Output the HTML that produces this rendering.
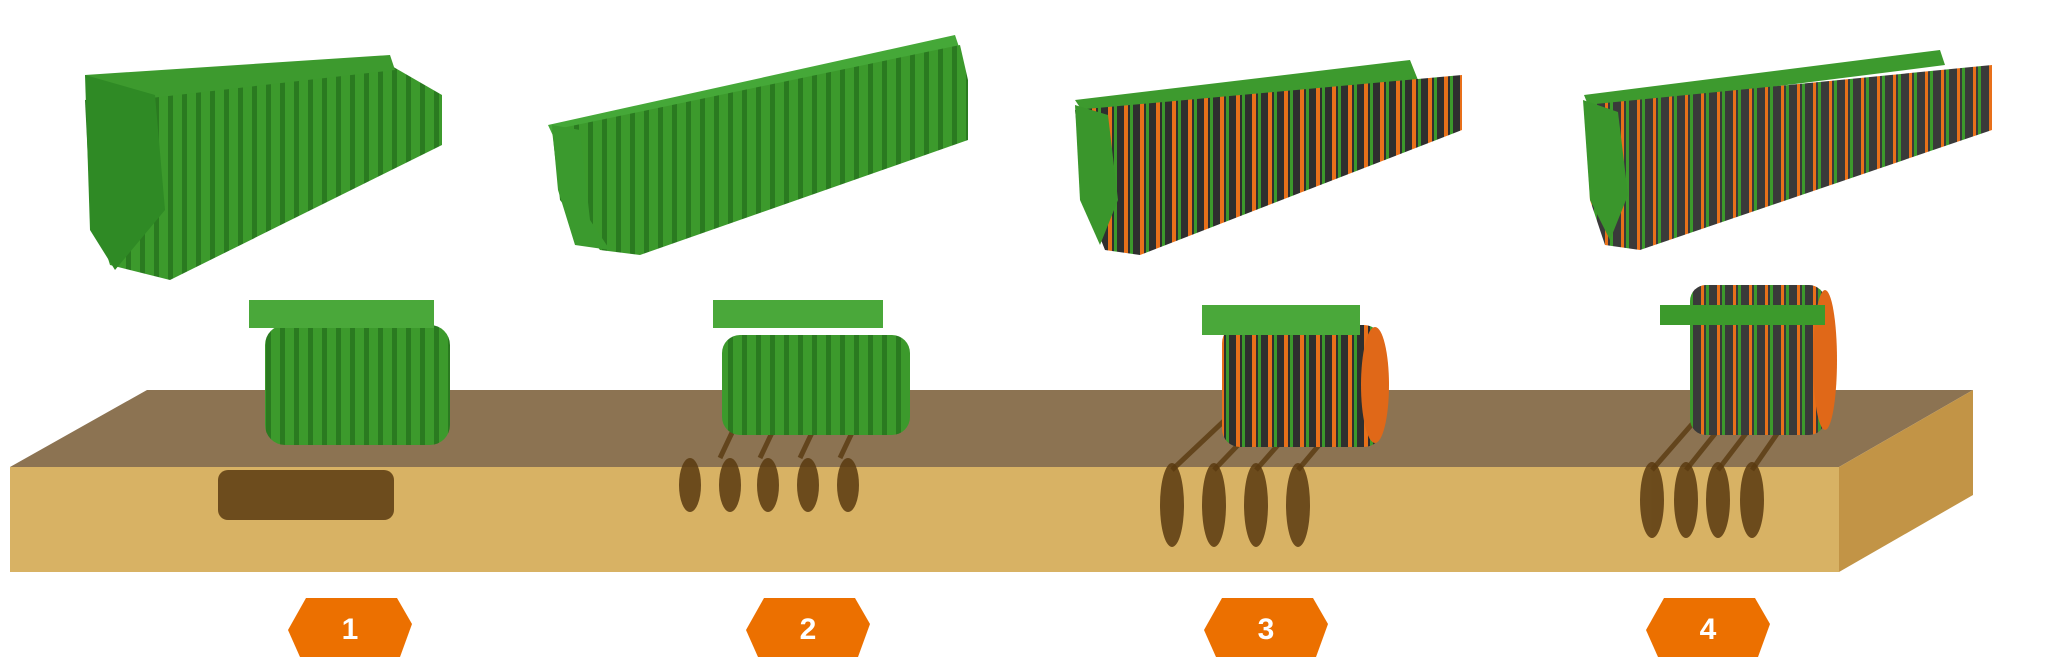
<!DOCTYPE html>
<html><head><meta charset="utf-8"><style>
html,body{margin:0;padding:0;background:#fff;}
svg{display:block}
text{font-family:"Liberation Sans",sans-serif;font-weight:bold}
</style></head><body>
<svg width="2052" height="659" viewBox="0 0 2052 659" xmlns="http://www.w3.org/2000/svg">
<defs>
<pattern id="st" width="14" height="10" patternUnits="userSpaceOnUse">
<rect width="14" height="10" fill="#3c9a2c"/><rect x="0" width="5" height="10" fill="#2a7a20"/>
</pattern>
<pattern id="st3" width="16" height="10" patternUnits="userSpaceOnUse">
<rect width="16" height="10" fill="#2f2f2f"/><rect x="4" width="4" height="10" fill="#e8701a"/><rect x="10" width="3" height="10" fill="#3c9a2c"/>
</pattern>
<pattern id="st4" width="16" height="10" patternUnits="userSpaceOnUse">
<rect width="16" height="10" fill="#3a3a3a"/><rect x="5" width="3" height="10" fill="#e8701a"/><rect x="10" width="3" height="10" fill="#3c9a2c"/>
</pattern>
</defs>
<!-- soil -->
<polygon points="10,467 147,390 1973,390 1839,467" fill="#8c7352"/>
<polygon points="10,467 1839,467 1839,572 10,572" fill="#d8b264"/>
<polygon points="1839,467 1973,390 1973,495 1839,572" fill="#c29446"/>
<!-- furrows -->
<g fill="#5a3a10" opacity="0.85">
<rect x="218" y="470" width="176" height="50" rx="10"/>
<ellipse cx="690" cy="485" rx="11" ry="27"/><ellipse cx="730" cy="485" rx="11" ry="27"/><ellipse cx="768" cy="485" rx="11" ry="27"/><ellipse cx="808" cy="485" rx="11" ry="27"/><ellipse cx="848" cy="485" rx="11" ry="27"/>
<ellipse cx="1172" cy="505" rx="12" ry="42"/><ellipse cx="1214" cy="505" rx="12" ry="42"/><ellipse cx="1256" cy="505" rx="12" ry="42"/><ellipse cx="1298" cy="505" rx="12" ry="42"/>
<ellipse cx="1652" cy="500" rx="12" ry="38"/><ellipse cx="1686" cy="500" rx="12" ry="38"/><ellipse cx="1718" cy="500" rx="12" ry="38"/><ellipse cx="1752" cy="500" rx="12" ry="38"/>
</g>
<g stroke="#5a3a10" stroke-width="5" opacity="0.8">
<line x1="720" y1="458" x2="738" y2="420"/><line x1="760" y1="458" x2="778" y2="420"/><line x1="800" y1="458" x2="818" y2="420"/><line x1="840" y1="458" x2="858" y2="420"/>
<line x1="1172" y1="470" x2="1225" y2="420"/><line x1="1214" y1="470" x2="1262" y2="420"/><line x1="1256" y1="470" x2="1300" y2="420"/><line x1="1298" y1="470" x2="1340" y2="420"/>
<line x1="1652" y1="470" x2="1700" y2="415"/><line x1="1686" y1="470" x2="1730" y2="415"/><line x1="1718" y1="470" x2="1760" y2="415"/><line x1="1752" y1="470" x2="1790" y2="415"/>
</g>
<!-- big rollers -->
<g>
<polygon points="85,100 390,65 442,95 442,145 170,280 110,265 90,200" fill="url(#st)"/>
<polygon points="85,75 390,55 395,70 90,105" fill="#3d9a2e"/>
<polygon points="85,75 155,95 165,210 115,270 90,230" fill="#2f8a25"/>
<polygon points="548,125 955,35 960,50 555,140" fill="#45a838"/>
<polygon points="552,130 960,45 968,80 968,140 640,255 600,250 560,200" fill="url(#st)"/>
<polygon points="552,125 580,130 590,220 610,250 575,245 558,190" fill="#3b9a2e"/>
<polygon points="1075,100 1410,60 1418,80 1085,115" fill="#3d9a2e"/>
<polygon points="1075,110 1462,75 1462,130 1140,255 1105,250 1085,200" fill="url(#st3)"/>
<polygon points="1075,105 1108,115 1118,200 1100,245 1080,200" fill="#3a962c"/>
<polygon points="1584,95 1940,50 1945,65 1590,110" fill="#3d9a2e"/>
<polygon points="1585,105 1992,65 1992,130 1640,250 1605,245 1590,200" fill="url(#st4)"/>
<polygon points="1583,100 1618,112 1628,195 1610,240 1590,200" fill="#3a962c"/>
</g>
<!-- small sections -->
<g>
<rect x="265" y="325" width="185" height="120" rx="20" fill="url(#st)"/>
<rect x="249" y="300" width="185" height="28" fill="#4aa83a"/>
<rect x="722" y="335" width="188" height="100" rx="18" fill="url(#st)"/>
<rect x="713" y="300" width="170" height="28" fill="#4aa83a"/>
<rect x="1222" y="325" width="160" height="122" rx="18" fill="url(#st3)"/>
<ellipse cx="1375" cy="385" rx="14" ry="58" fill="#e06818"/>
<rect x="1202" y="305" width="158" height="30" fill="#4aa83a"/>
<rect x="1690" y="285" width="135" height="150" rx="16" fill="url(#st4)"/>
<ellipse cx="1825" cy="360" rx="12" ry="70" fill="#e06818"/>
<rect x="1660" y="305" width="165" height="20" fill="#3c9a2c"/>
</g>
<!-- badges -->
<g fill="#ec7000">
<polygon points="288,630 306,598 397,598 412,624 400,657 300,657"/>
<polygon points="746,630 764,598 855,598 870,624 858,657 758,657"/>
<polygon points="1204,630 1222,598 1313,598 1328,624 1316,657 1216,657"/>
<polygon points="1646,630 1664,598 1755,598 1770,624 1758,657 1658,657"/>
</g>
<g fill="#fff" font-size="30" text-anchor="middle">
<text x="350" y="639">1</text><text x="808" y="639">2</text><text x="1266" y="639">3</text><text x="1708" y="639">4</text>
</g>
</svg>
</body></html>
